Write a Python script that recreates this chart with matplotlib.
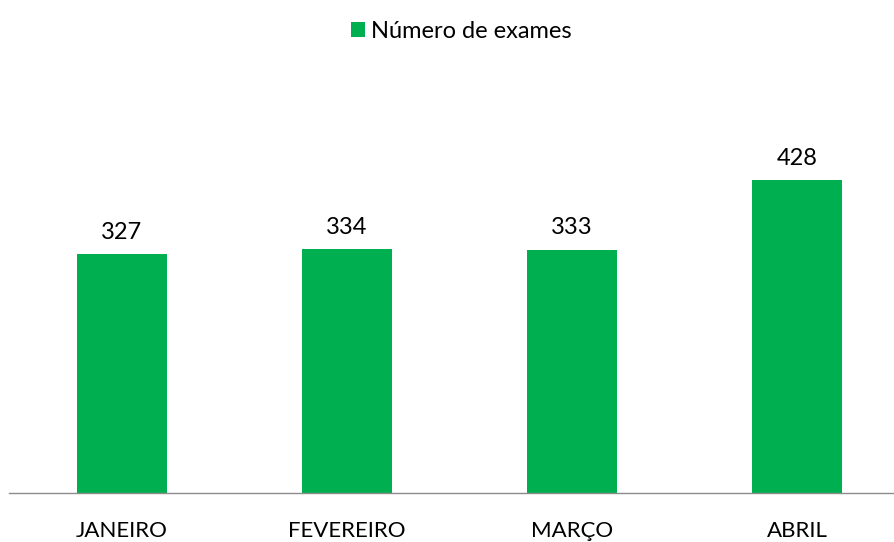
import matplotlib.pyplot as plt

plt.rcParams['font.family'] = ['Lato', 'DejaVu Sans']

meses = ['JANEIRO', 'FEVEREIRO', 'MARÇO', 'ABRIL']
exames = [327, 334, 333, 428]

fig = plt.figure(figsize=(8.95, 5.42), dpi=100)
ax = fig.add_axes([9 / 895, 49 / 542, 886 / 895, 365.5 / 542])

x = range(len(meses))
bars = ax.bar(x, exames, width=0.4, color='#00B050', label='Número de exames')

for b, v in zip(bars, exames):
    ax.annotate(str(v), (b.get_x() + b.get_width() / 2, v), xytext=(0, 8),
                textcoords='offset points', ha='center', va='bottom', fontsize=17)

ax.set_xlim(-0.5, 3.435)
ax.set_ylim(0, 500)
ax.set_xticks(list(x))
ax.set_xticklabels(meses, fontsize=16)
ax.tick_params(axis='x', length=0, pad=20)
ax.set_yticks([])
for s in ['top', 'right', 'left']:
    ax.spines[s].set_visible(False)
ax.spines['bottom'].set_color('#8c8c8c')
ax.spines['bottom'].set_linewidth(1)

fig.legend(loc='upper center', bbox_to_anchor=(0.515, 1.0), frameon=False,
           fontsize=17, handlelength=0.6, handleheight=0.6, handletextpad=0.25)

fig.savefig('out.png', dpi=100)
